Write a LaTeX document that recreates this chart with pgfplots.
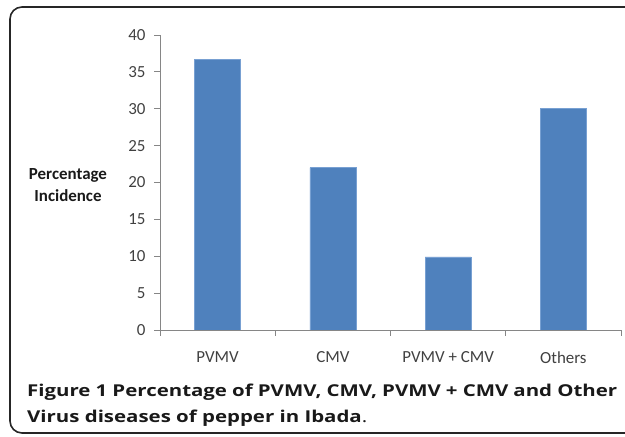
\documentclass[border=0pt]{standalone}
\usepackage{pgfplots}
\pgfplotsset{compat=1.18}
\usepackage{fontspec}
\setmainfont{Carlito}
\newfontfamily\capfont[FakeStretch=1.25]{Open Sans}
\definecolor{barblue}{RGB}{79,129,189}
\definecolor{baredge}{RGB}{120,160,210}
\definecolor{axgray}{RGB}{134,134,134}
\definecolor{txt}{RGB}{64,64,64}
\begin{document}
\begin{tikzpicture}[x=1bp,y=1bp]
\useasboundingbox (0,0) rectangle (625,437);
\begin{scope}
\clip (0,0) rectangle (625,437);
\draw[line width=1.6bp, draw=black!85, rounded corners=12bp] (10,4) rectangle (700,430);
\end{scope}
\begin{axis}[at={(160bp,107bp)}, anchor=south west, scale only axis,
 width=461bp, height=295bp,
 xmin=-0.5, xmax=3.5, ymin=0, ymax=40,
 axis x line=bottom, axis y line=left,
 axis line style={draw=axgray, line width=0.8bp, -},
 xtick={0,1,2,3}, xticklabels={PVMV, CMV, PVMV + CMV, Others},
 major x tick style={draw=none},
 minor xtick={-0.5,0.5,1.5,2.5,3.5},
 minor tick length=6bp, major tick length=6bp, tick align=outside,
 tick style={draw=axgray, line width=0.8bp},
 ytick={0,5,...,40},
 ticklabel style={font=\fontsize{17}{20}\selectfont, text=txt},
 xticklabel style={yshift=-12bp},
 yticklabel style={xshift=-5bp},
 /pgf/number format/assume math mode=true,
 ybar, bar width=46bp,
]
\addplot[fill=barblue, draw=baredge, line width=0.6bp] coordinates {(0,36.7) (1,22) (2,9.9) (3,30)};
\end{axis}
\node[font=\bfseries\fontsize{17}{22}\selectfont, align=center, text=black!90] at (68,252) {Percentage\\Incidence};
\node[anchor=base west, inner sep=0pt, font=\capfont\bfseries\fontsize{16.4}{26.5}\selectfont, text=black!90] at (27,40) {\makebox[590bp][s]{Figure 1 Percentage of PVMV, CMV, PVMV + CMV and Other}};
\node[anchor=base west, inner sep=0pt, font=\capfont\fontsize{16.4}{26.5}\selectfont, text=black!90] at (27,14) {\textbf{Virus diseases of pepper in Ibada}.};
\end{tikzpicture}
\end{document}
